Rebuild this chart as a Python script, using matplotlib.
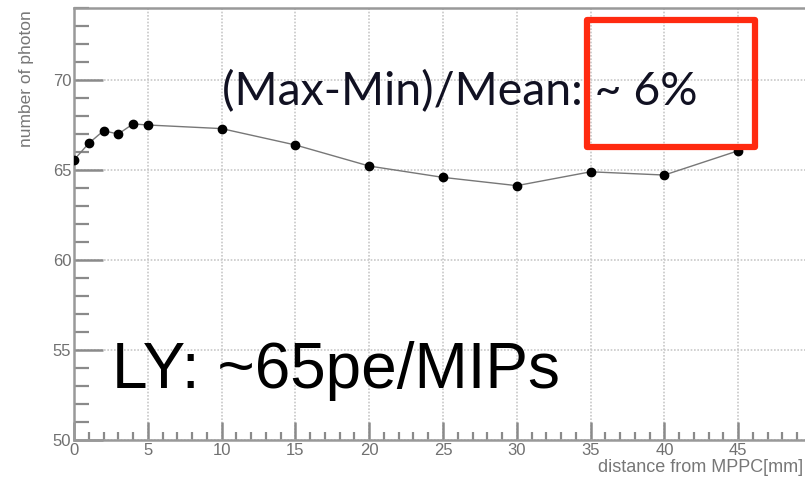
import matplotlib
matplotlib.use("Agg")
import matplotlib.pyplot as plt
from matplotlib.ticker import MultipleLocator, FixedLocator
from matplotlib.patches import Rectangle

distance_mm = [0, 1, 2, 3, 4, 5, 10, 15, 20, 25, 30, 35, 40, 45]
n_photon = [65.56, 66.48, 67.18, 67.0, 67.56, 67.5, 67.3, 66.39, 65.22, 64.59, 64.13, 64.9, 64.72, 66.07]
x_ticks = [0, 5, 10, 15, 20, 25, 30, 35, 40, 45]
y_ticks = [50, 55, 60, 65, 70]

x_label = "distance from MPPC[mm]"
y_label = "number of photon"
note_ratio = "(Max-Min)/Mean: ~ 6%"
note_ly = "LY: ~65pe/MIPs"

W, H = 805, 483
fig = plt.figure(figsize=(W / 100, H / 100), dpi=100)
ax = fig.add_axes([74 / W, 43 / H, (812 - 74) / W, 432 / H])
ax.set_xlim(0, 50)
ax.set_ylim(50, 74)

gray = "#8a8a8a"
ax.plot(distance_mm, n_photon, color="#777777", lw=1.0, marker="o",
        markersize=6, markerfacecolor="black", markeredgecolor="black", zorder=3)

ax.xaxis.set_major_locator(FixedLocator(x_ticks))
ax.xaxis.set_minor_locator(MultipleLocator(1))
ax.yaxis.set_major_locator(FixedLocator(y_ticks))
ax.yaxis.set_minor_locator(MultipleLocator(1))
ax.tick_params(axis="y", which="major", direction="in", length=21, width=1.8, color=gray,
               labelsize=12, labelcolor="#707070", pad=2)
ax.tick_params(axis="y", which="minor", direction="in", length=11, width=1.6, color=gray)
ax.tick_params(axis="x", which="major", direction="in", length=13, width=1.8, color=gray,
               labelsize=12, labelcolor="#707070", pad=2)
ax.tick_params(axis="x", which="minor", direction="in", length=6, width=1.6, color=gray)
for lab in ax.get_xticklabels() + ax.get_yticklabels():
    lab.set_family("Liberation Sans")
ax.grid(True, which="major", color="#c8c8c8", linestyle=(0, (1, 1)), lw=1.2)
for s in ax.spines.values():
    s.set_color("#999999")
    s.set_linewidth(1.8)

fig.text(26 / W, 1 - 10 / H, y_label, rotation=90, va="top", ha="center",
         fontsize=12.5, color="#777777", family="Liberation Sans")
fig.text(803 / W, 1 - 467 / H, x_label, ha="right", va="center",
         fontsize=13, color="#777777", family="Liberation Sans")

fig.text(222 / W, 1 - 105 / H, note_ratio, ha="left", va="baseline",
         fontsize=33.5, color="#111122", family="Lato")
fig.text(112 / W, 1 - 388 / H, note_ly, ha="left", va="baseline",
         fontsize=46, color="black", family="Liberation Sans")

fig.patches.append(Rectangle((587 / W, 1 - 147 / H), (755 - 587) / W, (147 - 20) / H,
                             transform=fig.transFigure, fill=False, edgecolor="#ff2a10",
                             lw=4.5, joinstyle="round", zorder=5))

fig.savefig("out.png", dpi=100)
